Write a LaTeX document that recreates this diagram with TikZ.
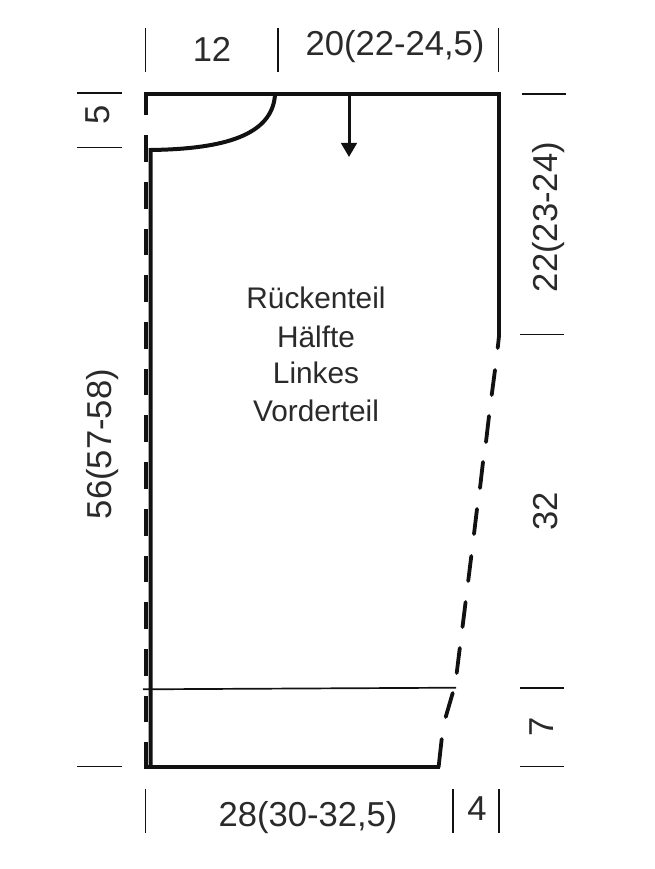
\documentclass[tikz,border=0pt]{standalone}
\usepackage{fontspec}
\setmainfont{Liberation Sans}
\usetikzlibrary{arrows.meta}
\definecolor{ink}{HTML}{111111}
\definecolor{txt}{HTML}{2A2A2A}
\tikzset{
  x=1pt,y=-1pt,
  heavy/.style={draw=ink,line width=4pt,line cap=butt,line join=miter},
  dashpiece/.style={draw=ink,line width=3.8pt,line cap=round},
  tick/.style={draw=ink,line width=1.7pt},
  dim/.style={text=txt,font=\fontsize{34.6}{34.6}\selectfont,inner sep=0pt},
  dimrot/.style={dim,rotate=90},
  body/.style={text=txt,font=\fontsize{29.8}{29.8}\selectfont,inner sep=0pt,anchor=center}
}
\begin{document}
\begin{tikzpicture}
\useasboundingbox (0,0) rectangle (655,869);
\fill[white] (0,0) rectangle (655,869);
% outline
\draw[heavy] (150.5,767) -- (150.5,150) .. controls (225,149) and (272,135) .. (275,95);
\draw[heavy] (144,767) -- (440,767);
\draw[heavy] (144,94.5) -- (500.5,94.5);
\draw[heavy] (498.5,92.5) -- (498.5,337);
% left fold line
\draw[draw=ink,line width=4pt,dash pattern=on 26.7pt off 20pt] (145.5,769) -- (145.5,95);
% right dashed edge
\draw[dashpiece] (499,336) -- (497.7,348);
\draw[dashpiece] (495,370) -- (491.7,395);
\draw[dashpiece] (489,416) -- (486,442);
\draw[dashpiece] (483,462) -- (480,488);
\draw[dashpiece] (477,509) -- (474,534);
\draw[dashpiece] (471.3,556) -- (468.2,581);
\draw[dashpiece] (465.6,602) -- (462.5,627);
\draw[dashpiece] (459.8,648) -- (456.7,673);
\draw[dashpiece] (452.7,693) -- (445.7,717);
\draw[dashpiece] (441.7,739) -- (438.6,767);
% hem line
\draw[draw=ink,line width=1.7pt] (143,689.3) -- (456,687.7);
% arrow
\draw[draw=ink,line width=3pt,-{Triangle[length=14pt,width=15.5pt]}] (349,95) -- (349,157);
% ticks
\draw[tick] (145.5,28) -- (145.5,72);
\draw[tick] (278,28) -- (278,72);
\draw[tick] (498.5,28) -- (498.5,72);
\draw[tick] (77,93) -- (122,93);
\draw[tick] (77,147.5) -- (122,147.5);
\draw[tick] (77,766.5) -- (122,766.5);
\draw[tick] (522,94) -- (566,94);
\draw[tick] (520,334.5) -- (564,334.5);
\draw[tick] (520,688) -- (564,688);
\draw[tick] (520,766.5) -- (564,766.5);
\draw[tick] (145.5,789) -- (145.5,833);
\draw[tick] (453,789) -- (453,833);
\draw[tick] (499,789) -- (499,833);
% labels
\node[dim] (a) at (212,49) {12};
\node[dim] (b) at (395,47) {20(22-24,5)};
\node[dim] (c) at (308,818) {28(30-32,5)};
\node[dim] (d) at (477,809) {4};
\node[dimrot] (e) at (98,115) {5};
\node[dimrot] (f) at (103,444) {56(57-58)};
\node[dimrot] (g) at (549,217) {22(23-24)};
\node[dimrot] (h) at (546,511) {32};
\node[dimrot] (i) at (542,727) {7};
\node[body] (j) at (316,298) {Rückenteil};
\node[body] (k) at (316,337) {Hälfte};
\node[body] (l) at (316,373) {Linkes};
\node[body] (m) at (316,411) {Vorderteil};
\end{tikzpicture}
\end{document}
